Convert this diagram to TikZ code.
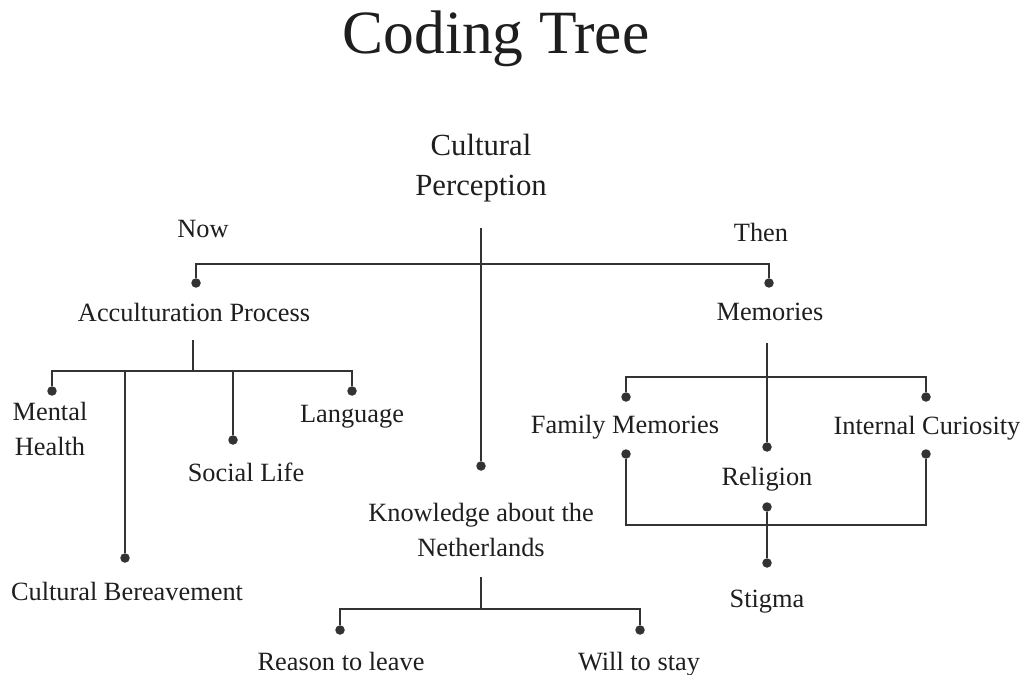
\documentclass[tikz,border=0pt]{standalone}
\usepackage{fontspec}
\setmainfont{Liberation Serif}
\usetikzlibrary{positioning}

\definecolor{linegray}{HTML}{333333}
\definecolor{textgray}{HTML}{1E1E1E}

\tikzset{
  label/.style={font=\fontsize{15}{19.5}\selectfont, align=center, text=textgray, inner sep=0pt},
  rootlabel/.style={font=\fontsize{17.5}{22.7}\selectfont, align=center, text=textgray, inner sep=0pt},
  dot/.style={circle, fill=linegray, inner sep=0pt, minimum size=0.19cm},
  link/.style={draw=linegray, line width=1.5pt},
}

\begin{document}
\begin{tikzpicture}[x=0.02cm, y=-0.02cm]
\useasboundingbox (0,0) rectangle (1027,675);
% Title
\node[font=\fontsize{35}{40}\selectfont, text=textgray, anchor=base] (title) at (496,54) {Coding Tree};
% Labels
\node[rootlabel] (cp) at (481,168) {Cultural\\Perception};
\node[label] (now) at (203,229) {Now};
\node[label] (then) at (761,232) {Then};
\node[label] (acc) at (194,312) {Acculturation Process};
\node[label] (mem) at (770,312) {Memories};
\node[label] (mh) at (50,429) {Mental\\Health};
\node[label] (lang) at (352,417) {Language};
\node[label] (sl) at (246,472) {Social Life};
\node[label] (cb) at (127,591) {Cultural Bereavement};
\node[label] (knw) at (481,530) {Knowledge about the\\Netherlands};
\node[label] (rl) at (341,661) {Reason to leave};
\node[label] (ws) at (639,664) {Will to stay};
\node[label] (fm) at (625,427) {Family Memories};
\node[label] (ic) at (927,428) {Internal Curiosity};
\node[label] (rel) at (767,479) {Religion};
\node[label] (stg) at (767,602) {Stigma};
% Dots
\node[dot] (acc-dot) at (196,283) {};
\node[dot] (mem-dot) at (769,283) {};
\node[dot] (knw-dot) at (481,466) {};
\node[dot] (mh-dot) at (52,391) {};
\node[dot] (lang-dot) at (352,391) {};
\node[dot] (sl-dot) at (233,440) {};
\node[dot] (cb-dot) at (125,558) {};
\node[dot] (rl-dot) at (340,630) {};
\node[dot] (ws-dot) at (640,630) {};
\node[dot] (fm-dot) at (626,397) {};
\node[dot] (ic-dot) at (926,397) {};
\node[dot] (rel-dot) at (767,447) {};
\node[dot] (fm-low) at (626,454) {};
\node[dot] (ic-low) at (926,454) {};
\node[dot] (rel-low) at (767,507) {};
\node[dot] (stg-dot) at (767,563) {};
% Junctions
\coordinate (cp-stem) at (481,228);
\coordinate (top-bar) at (481,264);
\coordinate (acc-stem) at (193,340);
\coordinate (acc-bar) at (193,371);
\coordinate (knw-stem) at (481,577);
\coordinate (knw-bar) at (481,609);
\coordinate (mem-stem) at (767,343);
\coordinate (mem-bar) at (767,377);
\coordinate (rel-bar) at (767,525);
% Lines
\draw[link] (cp-stem) -- (knw-dot);
\draw[link] (acc-dot) |- (top-bar) -| (mem-dot);
\draw[link] (acc-stem) -- (acc-bar);
\draw[link] (mh-dot) |- (acc-bar) -| (lang-dot);
\draw[link] (cb-dot) -- (cb-dot |- acc-bar);
\draw[link] (sl-dot) -- (sl-dot |- acc-bar);
\draw[link] (knw-stem) -- (knw-bar);
\draw[link] (rl-dot) |- (knw-bar) -| (ws-dot);
\draw[link] (mem-stem) -- (rel-dot);
\draw[link] (fm-dot) |- (mem-bar) -| (ic-dot);
\draw[link] (fm-low) |- (rel-bar) -| (ic-low);
\draw[link] (rel-low) -- (stg-dot);
\end{tikzpicture}
\end{document}
